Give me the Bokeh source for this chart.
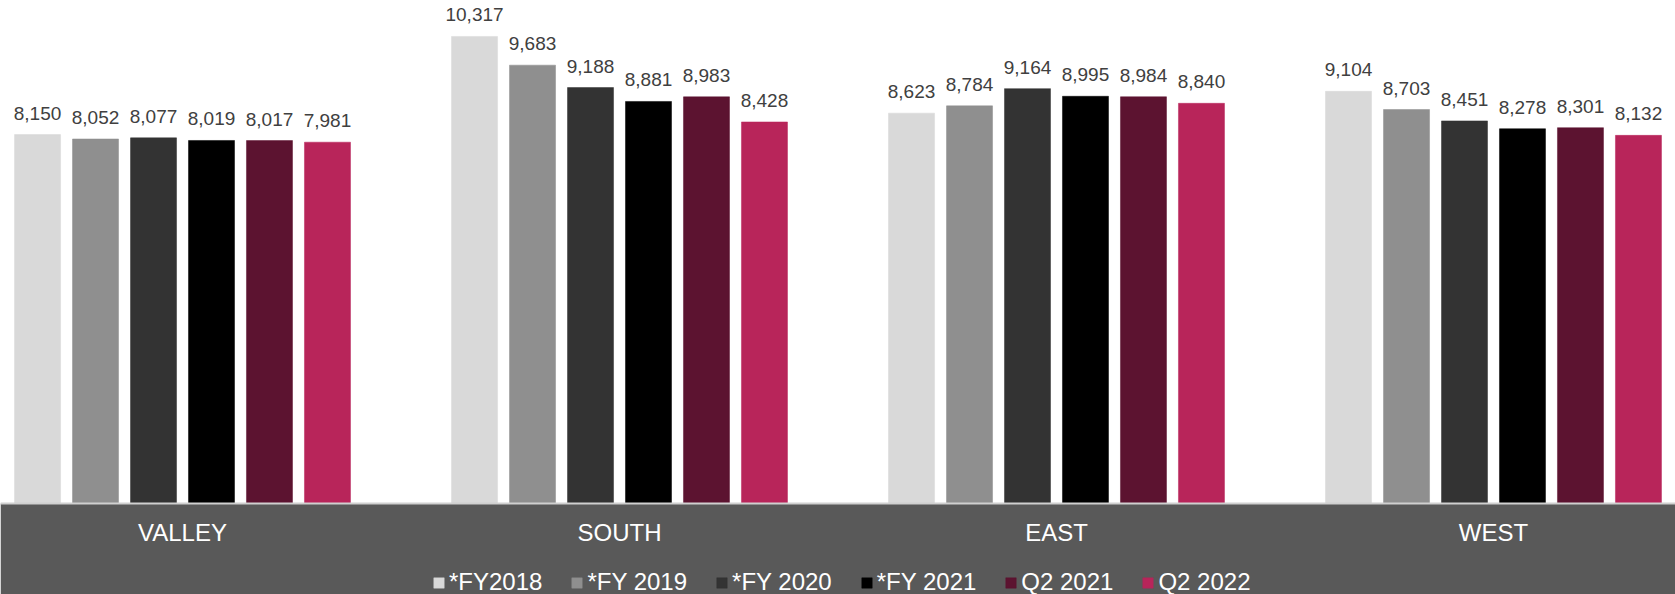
import numpy as np
from bokeh.plotting import figure
from bokeh.models import (Range1d, Legend, LegendItem, LabelSet,
                          ColumnDataSource, BoxAnnotation, Span)
from bokeh.core.properties import value
from bokeh.embed import file_html
from bokeh.resources import INLINE

regions = ["VALLEY", "SOUTH", "EAST", "WEST"]
series = ["*FY2018", "*FY 2019", "*FY 2020", "*FY 2021", "Q2 2021", "Q2 2022"]
fy2018 = [8150, 10317, 8623, 9104]
fy2019 = [8052, 9683, 8784, 8703]
fy2020 = [8077, 9188, 9164, 8451]
fy2021 = [8019, 8881, 8995, 8278]
q2_2021 = [8017, 8983, 8984, 8301]
q2_2022 = [7981, 8428, 8840, 8132]
values = [fy2018, fy2019, fy2020, fy2021, q2_2021, q2_2022]
colors = ["#d9d9d9", "#8f8f8f", "#333333", "#000000", "#5c1330", "#b8255a"]

FONT = "Liberation Sans"
step = 0.1327
bar_w = 0.1053

p = figure(width=1675, height=594, output_backend="svg", toolbar_location=None,
           x_range=Range1d(-0.4165, 3.4165), y_range=Range1d(-2010, 11111),
           x_axis_location=None, y_axis_location=None,
           min_border=0, border_fill_color="white",
           background_fill_color="white")
p.outline_line_color = None
p.xgrid.visible = False
p.ygrid.visible = False

# dark band under the baseline
p.add_layout(BoxAnnotation(top=0, fill_color="#595959", fill_alpha=1,
                           line_color=None, level="underlay"))
p.add_layout(Span(location=0, dimension="width", line_color="#d0d0d0",
                  line_width=2))

idx = np.arange(len(regions))
items = []
for i, (name, vals, col) in enumerate(zip(series, values, colors)):
    xs = idx + (i - 2.5) * step
    src = ColumnDataSource(dict(x=xs, top=vals,
                                lab=[f"{v:,}" for v in vals]))
    r = p.vbar(x="x", top="top", bottom=0, width=bar_w, source=src,
               fill_color=col, line_color=col, line_width=0.5)
    items.append(LegendItem(label=name, renderers=[r]))
    p.add_layout(LabelSet(x="x", y="top", text="lab", source=src,
                          text_align="center", text_baseline="alphabetic",
                          y_offset=15, text_font=value(FONT),
                          text_font_size=value("19px"),
                          text_color=value("#404040")))

cat_src = ColumnDataSource(dict(x=idx, y=[0] * len(regions), lab=regions))
p.add_layout(LabelSet(x="x", y="y", text="lab", source=cat_src,
                      text_align="center", text_baseline="alphabetic",
                      y_offset=-37, text_font=value(FONT),
                      text_font_size=value("24px"),
                      text_color=value("white")))

legend = Legend(items=items, orientation="horizontal", location=(432, -2),
                background_fill_alpha=0, border_line_alpha=0, padding=0,
                margin=0, spacing=28, label_standoff=4, glyph_width=13,
                glyph_height=13, label_text_color="white",
                label_text_font=FONT, label_text_font_size="24px")
p.add_layout(legend, "center")

open("out.html", "w").write(file_html(p, INLINE))
